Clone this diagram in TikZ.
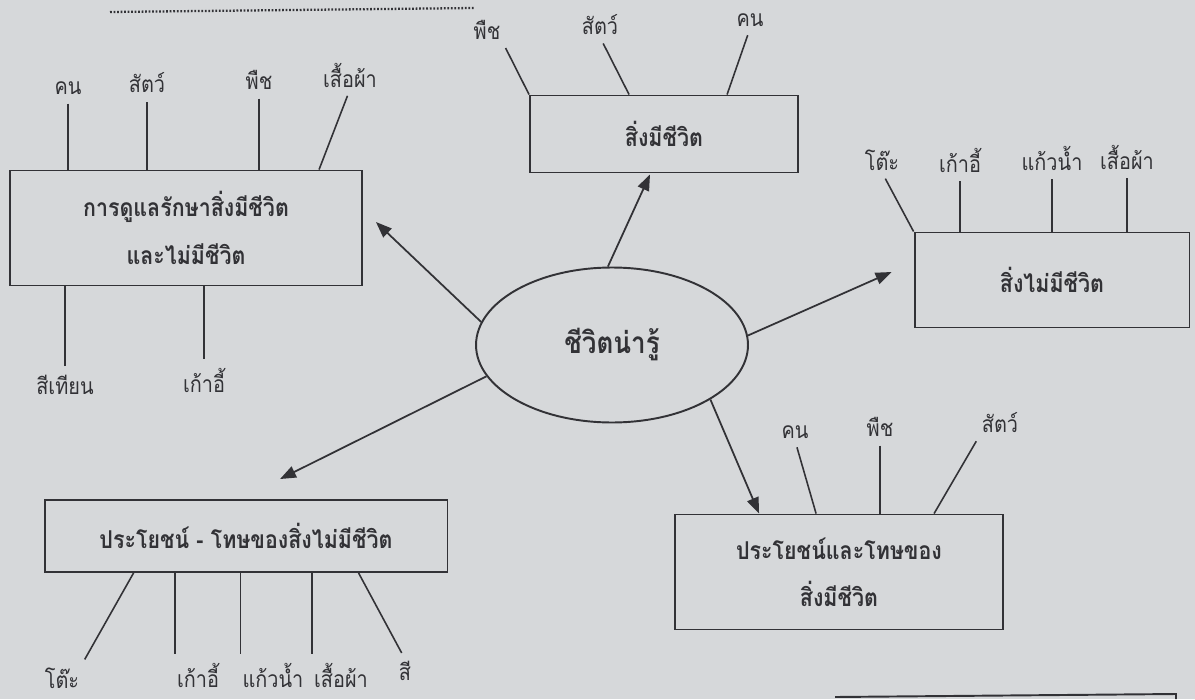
\documentclass[tikz,border=0pt]{standalone}
\usepackage{fontspec}
\newfontfamily\thaifont[Script=Thai, FakeStretch=0.87]{Loma}
\usepackage{tikz}
\usetikzlibrary{arrows.meta,shapes.geometric,calc}

\definecolor{paper}{RGB}{214,216,218}
\definecolor{ink}{RGB}{50,50,54}

\begin{document}
\begin{tikzpicture}[x=0.02cm,y=-0.02cm]
		\tikzstyle{box}=[draw=ink, line width=1.1pt, align=center, text=ink, font=\thaifont\bfseries\fontsize{14}{27}\selectfont]
		\tikzstyle{hub}=[box, ellipse, minimum width=5.44cm, minimum height=3.1cm, font=\thaifont\bfseries\fontsize{17}{20}\selectfont]
		\tikzstyle{word}=[text=ink, inner sep=1pt, font=\thaifont\fontsize{13}{15}\selectfont]
		\tikzstyle{stem}=[draw=ink, line width=0.9pt, shorten <=4pt]
		\tikzstyle{arrow}=[draw=ink, line width=1pt, -{Triangle[length=3.2mm,width=2.4mm]}]

		\fill[paper] (0,0) rectangle (1195,699);
		\useasboundingbox (0,0) rectangle (1195,699);

		% page marks
		\draw[ink, line width=1.3pt, dash pattern=on 1pt off 1pt] (110,12) -- (475,8);
		\draw[ink, line width=1.1pt] (835,697) -- (1176,694) -- (1176,699);

		\node [hub] (E0) at (612,345) {ชีวิตน่ารู้};

		\node [box, minimum width=7.04cm, minimum height=2.3cm] (B1) at (186,228) {การดูแลรักษาสิ่งมีชีวิต\\และไม่มีชีวิต};
		\node [box, minimum width=5.36cm, minimum height=1.54cm] (B2) at (664,134) {สิ่งมีชีวิต};
		\node [box, minimum width=5.5cm, minimum height=1.9cm] (B3) at (1052,280) {สิ่งไม่มีชีวิต};
		\node [box, minimum width=8.06cm, minimum height=1.44cm] (B4) at (246,536) {ประโยชน์ - โทษของสิ่งไม่มีชีวิต};
		\node [box, minimum width=6.56cm, minimum height=2.3cm] (B5) at (839,572) {ประโยชน์และโทษของ\\สิ่งมีชีวิต};

		% words round box 1
		\node [word] (L1-1) at (68,88) {คน};
		\node [word] (L1-2) at (147,83) {สัตว์};
		\node [word] (L1-3) at (259,80) {พืช};
		\node [word] (L1-4) at (350,75) {เสื้อผ้า};
		\node [word] (L1-5) at (65,385) {สีเทียน};
		\node [word] (L1-6) at (204,380) {เก้าอี้};
		\draw[stem] (L1-1.south) -- (L1-1.south |- B1.north);
		\draw[stem] (L1-2.south) -- (L1-2.south |- B1.north);
		\draw[stem] (L1-3.south) -- (L1-3.south |- B1.north);
		\draw[stem] (L1-4.south) -- ($(B1.north west)+(310,0)$);
		\draw[stem] (L1-5.north) -- (L1-5.north |- B1.south);
		\draw[stem] (L1-6.north) -- (L1-6.north |- B1.south);

		% words round box 2
		\node [word] (L2-1) at (487,30) {พืช};
		\node [word] (L2-2) at (600,25) {สัตว์};
		\node [word] (L2-3) at (750,20) {คน};
		\draw[stem] (L2-1.south east) -- (B2.north west);
		\draw[stem] (L2-2.south) -- ($(B2.north west)+(100,0)$);
		\draw[stem] (L2-3.south) -- ($(B2.north west)+(198,0)$);

		% words round box 3
		\node [word] (L3-1) at (882,160) {โต๊ะ};
		\node [word] (L3-2) at (960,160) {เก้าอี้};
		\node [word] (L3-3) at (1052,158) {แก้วน้ำ};
		\node [word] (L3-4) at (1127,157) {เสื้อผ้า};
		\draw[stem] (L3-1.south) -- (B3.north west);
		\draw[stem] (L3-2.south) -- (L3-2.south |- B3.north);
		\draw[stem] (L3-3.south) -- (L3-3.south |- B3.north);
		\draw[stem] (L3-4.south) -- (L3-4.south |- B3.north);

		% words round box 4
		\node [word] (L4-1) at (62,678) {โต๊ะ};
		\node [word] (L4-2) at (198,675) {เก้าอี้};
		\node [word] (L4-3) at (273,675) {แก้วน้ำ};
		\node [word] (L4-4) at (341,675) {เสื้อผ้า};
		\node [word] (L4-5) at (405,671) {สี};
		\draw[stem] (L4-1.north east) -- ($(B4.south west)+(90,0)$);
		\draw[stem] (L4-2.north west) -- (L4-2.north west |- B4.south);
		\draw[stem] (L4-3.north west) -- (L4-3.north west |- B4.south);
		\draw[stem] (L4-4.north west) -- (L4-4.north west |- B4.south);
		\draw[stem] (L4-5.north) -- ($(B4.south west)+(315,0)$);

		% words round box 5
		\node [word] (L5-1) at (795,432) {คน};
		\node [word] (L5-2) at (880,427) {พืช};
		\node [word] (L5-3) at (1000,423) {สัตว์};
		\draw[stem] (L5-1.south) -- ($(B5.north west)+(142,0)$);
		\draw[stem] (L5-2.south) -- (L5-2.south |- B5.north);
		\draw[stem] (L5-3.south west) -- ($(B5.north west)+(260,0)$);

		% arrows out of the hub
		\coordinate (T1) at ($(B1.east)+(13,-6)$);
		\coordinate (T2) at ($(B2.south)+(-14,1)$);
		\coordinate (T3) at ($(B3.west)+(-22,-8)$);
		\coordinate (T4) at ($(B4.north)+(34,-20)$);
		\coordinate (T5) at ($(B5.north west)+(85,0)$);
		\path (E0.170) edge [arrow] (T1);
		\path (E0.93) edge [arrow] (T2);
		\path (E0.4) edge [arrow] (T3);
		\path (E0.194) edge [arrow] (T4);
		\path (E0.331) edge [arrow] (T5);
\end{tikzpicture}
\end{document}
